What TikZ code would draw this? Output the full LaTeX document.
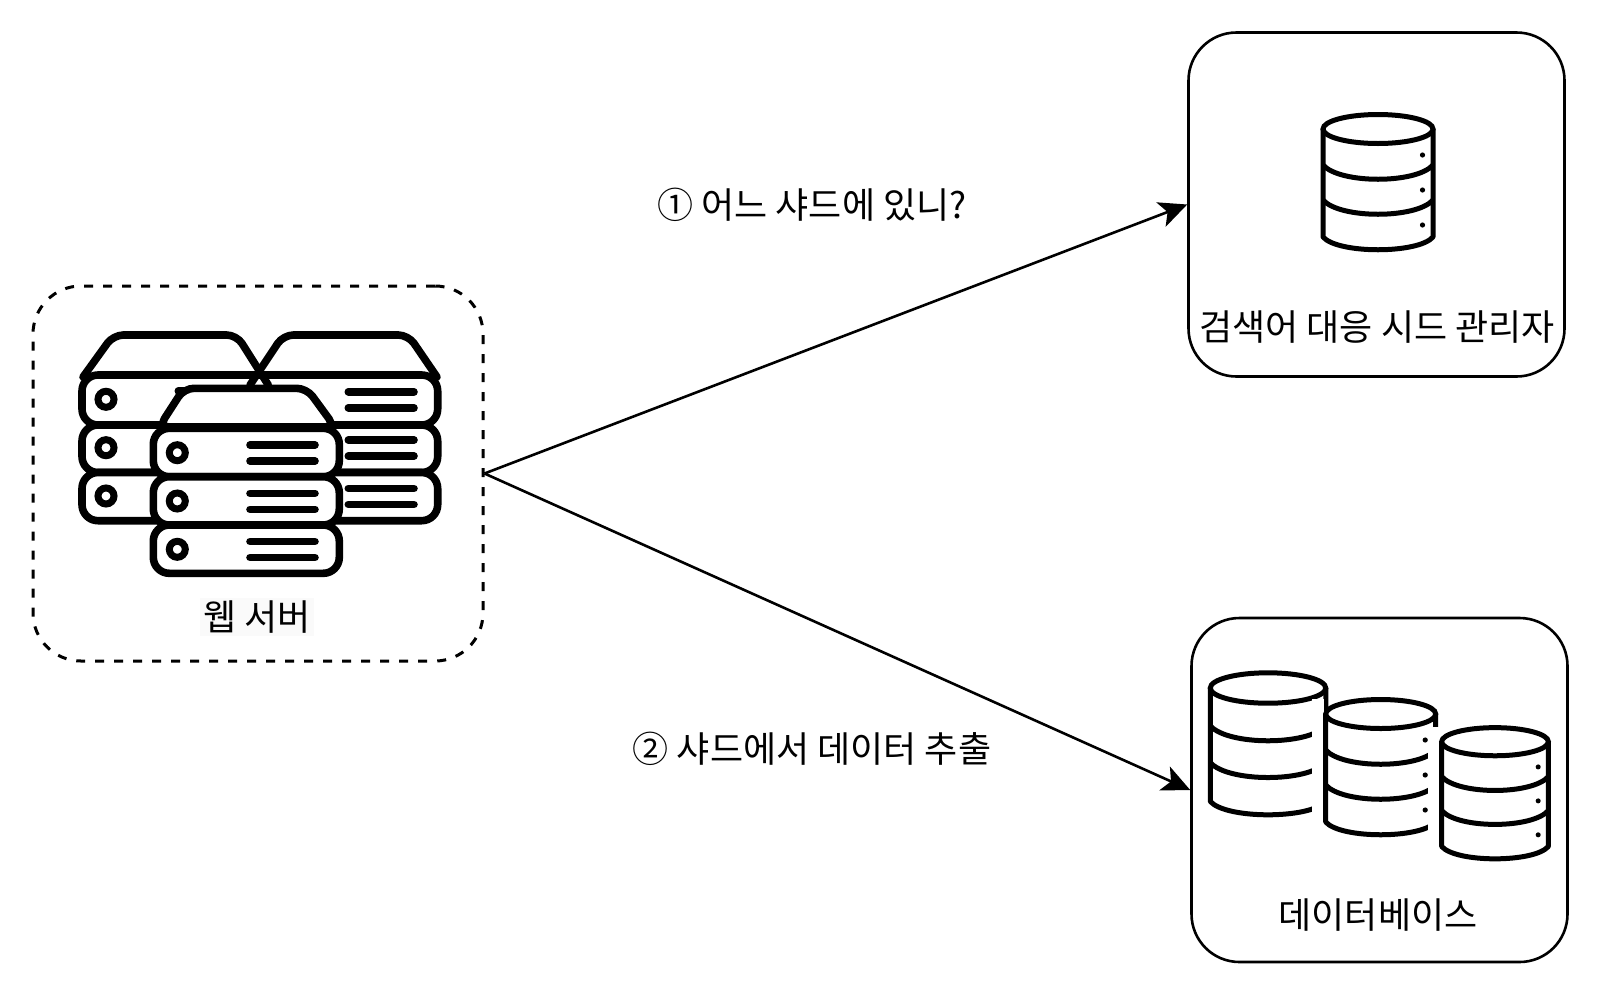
\documentclass[tikz,border=0pt]{standalone}
\usepackage{fontspec}
\setmainfont{Noto Sans CJK KR}
\usetikzlibrary{arrows.meta}
\usetikzlibrary{positioning, calc}

\tikzset{
  framebox/.style={draw=black, line width=1.3pt, rounded corners=24pt, minimum width=188pt, minimum height=172pt},
  webbox/.style={framebox, line width=1.5pt, dash pattern=on 4.5pt off 5pt, minimum width=225pt, minimum height=187.5pt},
  caption/.style={font=\fontsize{18}{22}\selectfont, inner sep=0pt},
  link/.style={line width=1.3pt, -{Stealth[length=14pt, width=13pt, inset=3.5pt]}},
  rackline/.style={line width=3.8pt, line cap=round, line join=round},
  pics/dbstack/.style={code={
    \draw[line width=2.5pt, line join=round, fill=white]
      (-55,0) -- (-55,108) .. controls (-40,125) and (40,125) .. (55,108) -- (55,0);
    \draw[line width=2.5pt, fill=white] (0,0) ellipse (55 and 14.5);
    \foreach \o in {36,71}
      \draw[line width=2.5pt] (-55,\o) .. controls (-38,\o+19) and (38,\o+19) .. (55,\o);
    \foreach \o in {26,61,96}
      \fill (44.5,\o) circle (1.3pt);
  }}
}

\begin{document}
\begin{tikzpicture}[x=0.5pt,y=-0.5pt]
  \useasboundingbox (0,0) rectangle (1600,997);

  % --- Web server ---
  \node[webbox] (web) at (258,473.5) {};
  % back rack
  \foreach \ytop/\ybot in {375/425,425/472.5,472.5/520.7}
    \draw[rackline, rounded corners=8pt, fill=white] (82,\ytop) rectangle (437.7,\ybot);
  \draw[rackline, rounded corners=5pt] (83,377) -- (113.3,335) -- (236.7,335) -- (268.3,385);
  \draw[rackline, rounded corners=5pt] (250,385) -- (283.3,335) -- (408.3,335) -- (437,377);
  \foreach \y in {399.3,447.7,496} {
    \draw[line width=3.5pt] (106,\y) circle (4pt);
    \draw[rackline] (348.3,\y-7.6) -- (414,\y-7.6);
    \draw[rackline] (348.3,\y+8.4) -- (414,\y+8.4);
  }
  \draw[rackline] (178.3,391) -- (185,391);
  % front rack
  \draw[rackline, rounded corners=5pt, fill=white] (159,427) -- (184,388.3) -- (306.7,388.3) -- (335,427) -- cycle;
  \foreach \ytop/\ybot in {428.3/476.7,476.7/525,525/573.3}
    \draw[rackline, rounded corners=8pt, fill=white] (153.3,\ytop) rectangle (339.3,\ybot);
  \foreach \y in {452.7,501,549.3} {
    \draw[line width=3.5pt] (177.3,\y) circle (4pt);
    \draw[rackline] (250,\y-7.7) -- (315,\y-7.7);
    \draw[rackline] (250,\y+8.3) -- (315,\y+8.3);
  }
  \node[caption, fill=black!2, inner sep=1.5pt] (weblabel) at (257,617) {웹 서버};

  % --- Shard manager ---
  \node[framebox] (shardmgr) at (1376.5,204.5) {};
  \pic at (1378,129) {dbstack};
  \node[caption] (mgrlabel) at (1377,327) {검색어 대응 시드 관리자};

  % --- Databases ---
  \node[framebox] (dbs) at (1379.5,790) {};
  \pic[scale=1.05] at (1268,688) {dbstack};
  \fill[white] (1312.3,699) rectangle (1324,819);
  \pic at (1380.7,714) {dbstack};
  \fill[white] (1428.3,727) rectangle (1439,842);
  \pic[scale=0.97] at (1495,741.7) {dbstack};
  \node[caption] (dblabel) at (1378,915) {데이터베이스};

  % --- Arrows ---
  \draw[link] (web.east) -- (shardmgr.west);
  \draw[link] (web.east) -- (dbs.west);
  \node[caption] (asklabel) at (812,205) {① 어느 샤드에 있니?};
  \node[caption] (fetchlabel) at (812,749) {② 샤드에서 데이터 추출};
\end{tikzpicture}
\end{document}
